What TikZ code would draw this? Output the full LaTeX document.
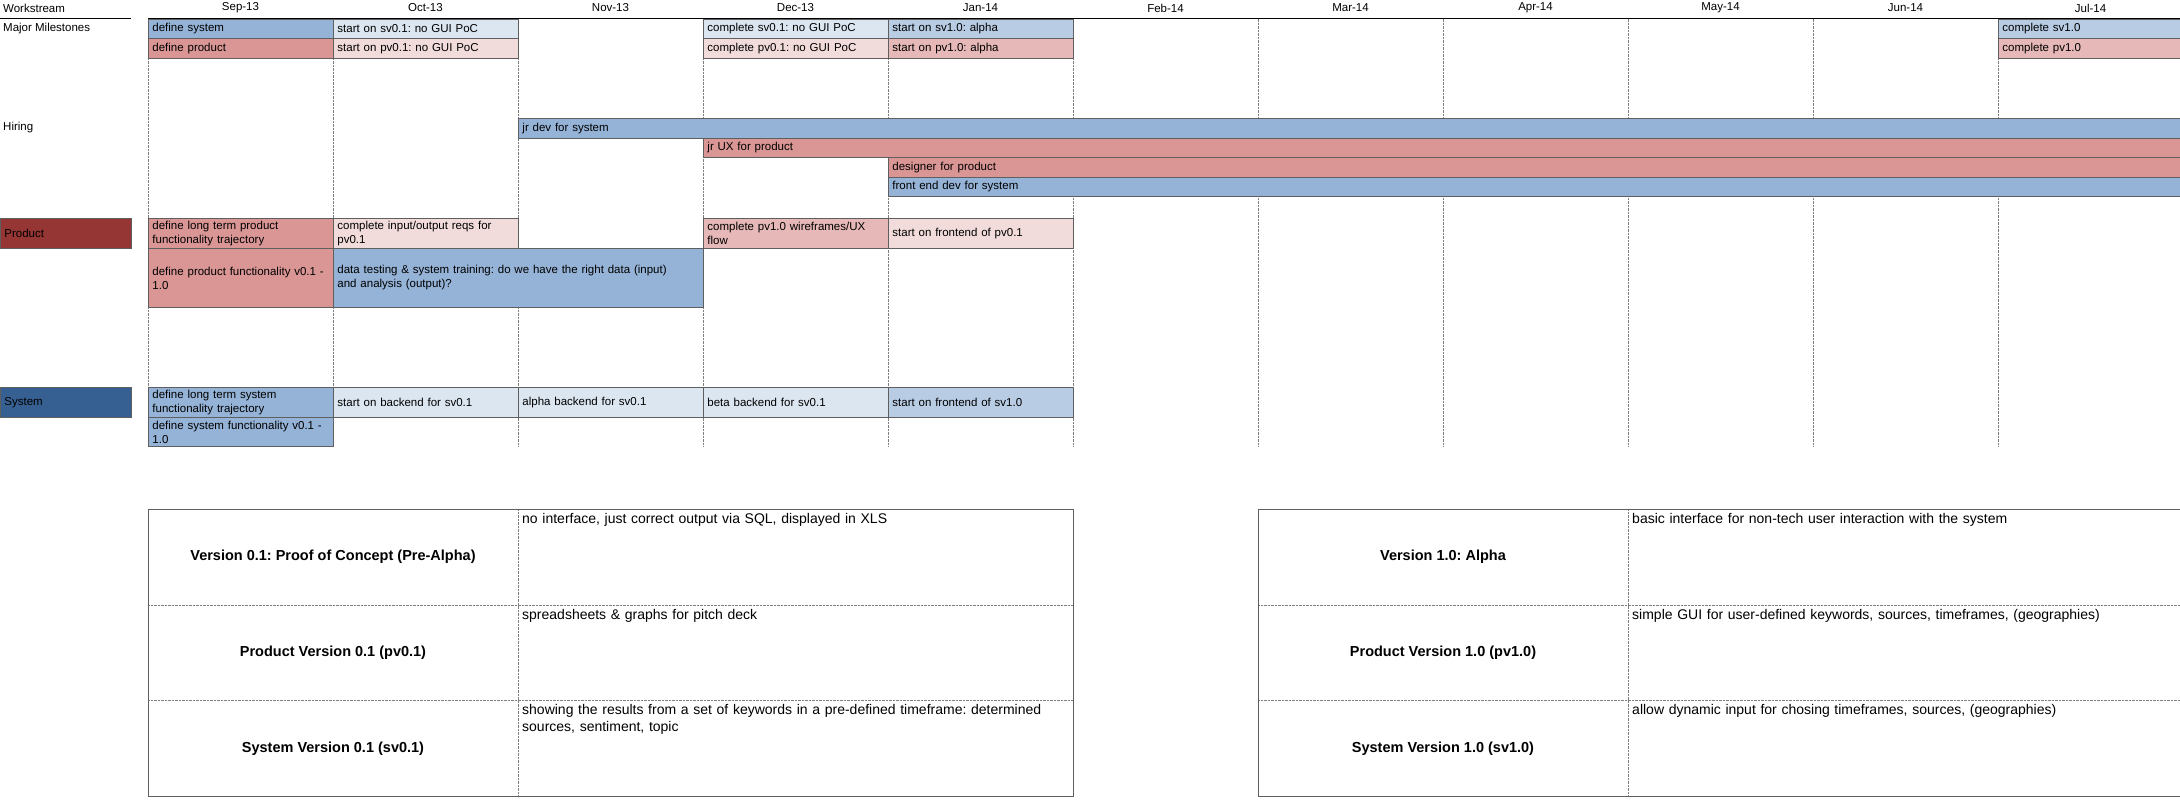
\documentclass[tikz,border=0pt]{standalone}
\usepackage{fontspec}
\setmainfont{Liberation Sans}
\frenchspacing
\definecolor{blueA}{HTML}{95B3D7}
\definecolor{blueB}{HTML}{B8CCE4}
\definecolor{blueC}{HTML}{DCE6F1}
\definecolor{redA}{HTML}{DA9694}
\definecolor{redB}{HTML}{E6B8B7}
\definecolor{redC}{HTML}{F2DCDB}
\definecolor{prodred}{HTML}{963634}
\definecolor{sysblue}{HTML}{366092}
\definecolor{edge}{HTML}{5F5F5F}
\begin{document}
\begin{tikzpicture}[x=1pt,y=-1pt,
    task/.style={draw=edge,line width=0.9pt,anchor=north west,inner xsep=4pt,
      inner ysep=0pt,align=left,font=\fontsize{11.5}{14}\selectfont},
    lbl/.style={anchor=west,inner sep=0pt,font=\fontsize{11.5}{14}\selectfont},
    cell/.style={anchor=north west,inner xsep=4pt,inner ysep=4pt,align=left,
      font=\fontsize{14}{16.5}\selectfont},
    head/.style={font=\bfseries\fontsize{14.5}{17}\selectfont}]
  \useasboundingbox (0,0) rectangle (2180,803);
  % workstream column
  \node[lbl] (ws) at (3,8) {Workstream};
  \node[lbl] (mm) at (3,28.2) {Major Milestones};
  \node[lbl] (hi) at (3,127.7) {Hiring};
  \node[task,fill=prodred,text width=123pt,minimum height=30pt] (prod) at (0,218) {Product};
  \node[task,fill=sysblue,text width=123pt,minimum height=30pt] (sys) at (0,387) {System};
  \foreach [count=\i from 0] \m in {Sep-13,Oct-13,Nov-13,Dec-13,Jan-14,Feb-14,
      Mar-14,Apr-14,May-14,Jun-14,Jul-14}
    \node[lbl,anchor=center] (mo\i) at ({240.5+185*\i},8) {\m};
  \draw[line width=1.2pt] (0,18.5) -- (131,18.5) (148,18.5) -- (2183,18.5);
  \foreach \i in {0,...,11}
    \draw[edge!80,densely dotted] ({148+185*\i},18.5) -- ++(0,427.5);
  % column/span/top/height/fill/text
  \foreach [count=\i] \xa/\nc/\ya/\hh/\fc/\txt in {
      0/1/18.5/19.5/blueA/{define system},
      1/1/18.5/19.5/blueC/{start on sv0.1: no GUI PoC},
      3/1/18.5/19.5/blueC/{complete sv0.1: no GUI PoC},
      4/1/18.5/19.5/blueB/{start on sv1.0: alpha},
      10/1/18.5/19.5/blueB/{complete sv1.0},
      0/1/38/19.5/redA/{define product},
      1/1/38/19.5/redC/{start on pv0.1: no GUI PoC},
      3/1/38/19.5/redC/{complete pv0.1: no GUI PoC},
      4/1/38/19.5/redB/{start on pv1.0: alpha},
      10/1/38/19.5/redB/{complete pv1.0}, %10
      2/9/118/19.5/blueA/{jr dev for system},
      3/8/137.5/19.5/redA/{jr UX for product},
      4/7/157/19.5/redA/{designer for product},
      4/7/176.5/19.5/blueA/{front end dev for system},
      0/1/218/30/redA/{define long term product\\functionality trajectory},
      1/1/218/30/redC/{complete input/output reqs for\\pv0.1},
      3/1/218/30/redB/{complete pv1.0 wireframes/UX\\flow},
      4/1/218/30/redC/{start on frontend of pv0.1},
      0/1/248/59/redA/{define product functionality v0.1 -\\1.0},
      1/2/248/59/blueA/{data testing \& system training: do we have the right data (input)\\and analysis (output)?}, %20
      0/1/387/30/blueA/{define long term system\\functionality trajectory},
      1/1/387/30/blueC/{start on backend for sv0.1},
      2/1/387/30/blueC/{alpha backend for sv0.1},
      3/1/387/30/blueC/{beta backend for sv0.1},
      4/1/387/30/blueB/{start on frontend of sv1.0},
      0/1/417/29/blueA/{define system functionality v0.1 -\\1.0}
    }
  {
    \pgfmathsetmacro\w{185*\nc-8}
    \node[task,fill=\fc,text width=\w pt,minimum height=\hh pt] (t\i) at ({148+185*\xa},\ya) {\txt};
  }
  % version tables
  \foreach \tx in {148,1258} {
    \draw[edge!80,densely dotted] (\tx+370,509) -- ++(0,287)
      (\tx,604.7) -- ++(925,0) (\tx,700.3) -- ++(925,0);
    \draw[edge,line width=0.9pt] (\tx,509) rectangle ++(925,287);
  }
  \foreach [count=\i] \hd/\txt in {
      {Version 0.1: Proof of Concept (Pre-Alpha)}/{no interface, just correct output via SQL, displayed in XLS},
      {Product Version 0.1 (pv0.1)}/{spreadsheets \& graphs for pitch deck},
      {System Version 0.1 (sv0.1)}/{showing the results from a set of keywords in a pre-defined timeframe: determined\\sources, sentiment, topic}
    }
  {
    \node[head] (vl\i) at (333,{509+95.7*(\i-0.5)}) {\hd};
    \node[cell,text width=547pt] (dl\i) at (518,{509+95.7*(\i-1)}) {\txt};
  }
  \foreach [count=\i] \hd/\txt in {
      {Version 1.0: Alpha}/{basic interface for non-tech user interaction with the system},
      {Product Version 1.0 (pv1.0)}/{simple GUI for user-defined keywords, sources, timeframes, (geographies)},
      {System Version 1.0 (sv1.0)}/{allow dynamic input for chosing timeframes, sources, (geographies)}
    }
  {
    \node[head] (vr\i) at (1443,{509+95.7*(\i-0.5)}) {\hd};
    \node[cell,text width=547pt] (dr\i) at (1628,{509+95.7*(\i-1)}) {\txt};
  }
\end{tikzpicture}
\end{document}
